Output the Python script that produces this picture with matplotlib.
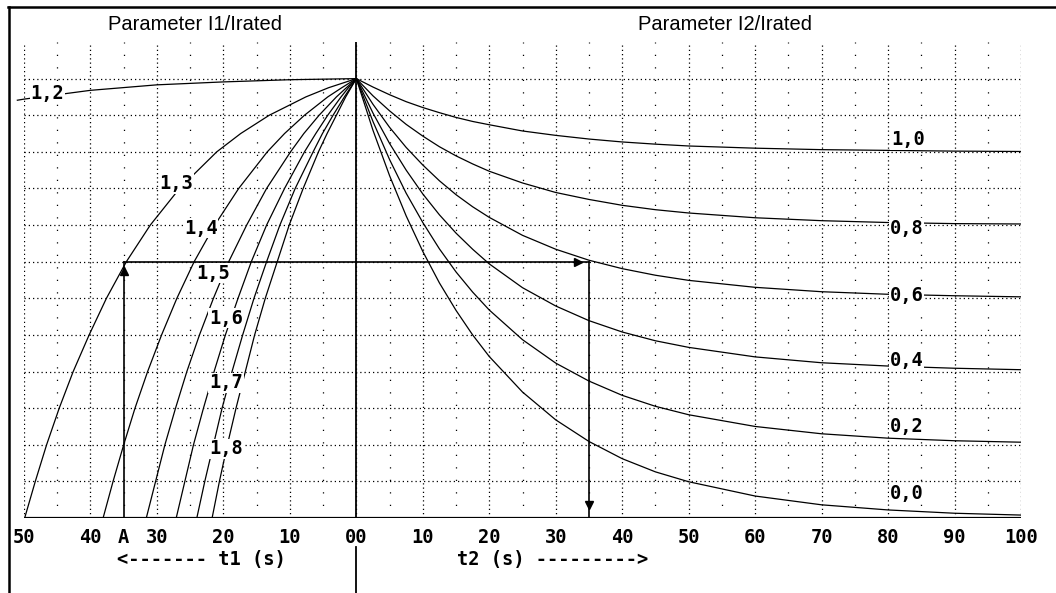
import matplotlib.pyplot as plt
from matplotlib.lines import Line2D

# ============================================================
# DATOS
# ============================================================

# lado izquierdo: calentamiento, t1 (s) hasta disparo para cada I1/Irated
niveles_y = [0, 1, 2, 3, 4, 5, 6, 7, 8, 9, 10, 10.5, 11, 11.5, 11.75, 12]
t1_13 = [49.9, 48.3, 46.6, 44.7, 42.6, 40.2, 37.6, 34.6, 31.0, 26.6, 21.0, 17.4, 13.1, 7.6, 4.2, 0]
t1_14 = [38.1, 36.6, 35.0, 33.3, 31.4, 29.3, 27.0, 24.4, 21.3, 17.7, 13.4, 10.8, 7.8, 4.3, 2.2, 0]
t1_15 = [31.6, 30.2, 28.8, 27.2, 25.5, 23.6, 21.5, 19.2, 16.5, 13.5, 9.9, 7.9, 5.6, 3.0, 1.5, 0]
t1_16 = [27.1, 25.8, 24.5, 23.0, 21.4, 19.7, 17.8, 15.8, 13.5, 10.8, 7.8, 6.1, 4.3, 2.3, 1.2, 0]
t1_17 = [24.0, 22.8, 21.5, 20.2, 18.7, 17.1, 15.4, 13.5, 11.5, 9.2, 6.5, 5.1, 3.5, 1.8, 0.9, 0]
t1_18 = [21.7, 20.6, 19.4, 18.1, 16.7, 15.3, 13.7, 11.9, 10.1, 8.0, 5.7, 4.4, 3.0, 1.6, 0.8, 0]

# la curva 1,2 es casi horizontal
t1_12 = [51, 50, 40, 30, 20, 10, 0]
y_12 = [11.41, 11.44, 11.68, 11.83, 11.91, 11.97, 12.0]

# lado derecho: enfriamiento, t2 (s) para cada I2/Irated
t2 = [0, 2.5, 5, 7.5, 10, 12.5, 15, 17.5, 20, 25, 30, 35, 40, 45, 50, 60, 70, 80, 90, 100]
y_10 = [12.0, 11.77, 11.56, 11.37, 11.21, 11.07, 10.94, 10.83, 10.74, 10.57, 10.45, 10.35, 10.27, 10.21, 10.16, 10.10, 10.06, 10.04, 10.02, 10.01]
y_08 = [12.0, 11.53, 11.12, 10.75, 10.43, 10.14, 9.89, 9.67, 9.47, 9.15, 8.89, 8.70, 8.54, 8.42, 8.33, 8.20, 8.12, 8.07, 8.04, 8.03]
y_06 = [12.0, 11.30, 10.67, 10.12, 9.64, 9.21, 8.83, 8.50, 8.21, 7.72, 7.34, 7.04, 6.81, 6.63, 6.49, 6.30, 6.18, 6.11, 6.07, 6.04]
y_04 = [12.0, 11.06, 10.23, 9.50, 8.85, 8.28, 7.78, 7.34, 6.94, 6.29, 5.79, 5.39, 5.08, 4.84, 4.66, 4.40, 4.24, 4.15, 4.09, 4.05]
y_02 = [12.0, 10.83, 9.79, 8.87, 8.07, 7.35, 6.72, 6.17, 5.68, 4.87, 4.23, 3.74, 3.35, 3.05, 2.82, 2.50, 2.30, 2.18, 2.11, 2.07]
y_00 = [12.0, 10.59, 9.35, 8.25, 7.28, 6.42, 5.67, 5.00, 4.41, 3.44, 2.68, 2.09, 1.62, 1.26, 0.99, 0.60, 0.36, 0.22, 0.13, 0.08]

# etiquetas de las curvas (texto, x, y)
etiquetas_i1 = ["1,2", "1,3", "1,4", "1,5", "1,6", "1,7", "1,8"]
etiq_i1_x = [-46.5, -27.1, -23.4, -21.5, -19.6, -19.6, -19.6]
etiq_i1_y = [11.6, 9.13, 7.92, 6.69, 5.46, 3.69, 1.89]

etiquetas_i2 = ["1,0", "0,8", "0,6", "0,4", "0,2", "0,0"]
etiq_i2_x = [83.0, 82.8, 82.8, 82.8, 82.8, 82.8]
etiq_i2_y = [10.33, 7.9, 6.07, 4.29, 2.49, 0.68]

# ejemplo de lectura: punto A
t_a = 35
y_a = 7

# ejes
ticks_x = [-50, -40, -35, -30, -20, -10, 0, 10, 20, 30, 40, 50, 60, 70, 80, 90, 100]
ticks_lbl = ["50", "40", "A", "30", "20", "10", "00", "10", "20", "30", "40",
             "50", "60", "70", "80", "90", "100"]

# ============================================================
# FIGURA
# ============================================================

W, H = 1056, 593
fig = plt.figure(figsize=(W / 100, H / 100), dpi=100)
ax = fig.add_axes([24 / W, (H - 518) / H, (1021 - 24) / W, (518 - 42) / H])
ax.set_xlim(-50, 100)
ax.set_ylim(0, 13)
for s in ax.spines.values():
    s.set_visible(False)
ax.set_yticks([])

mono = dict(family="DejaVu Sans Mono", weight="bold", size=13.5)

# rejilla punteada
for y in range(1, 13):
    ax.plot([-50, 100], [y, y], color="black", lw=0.9,
            ls=(0, (1, 2.4)), zorder=1)
for x in range(-50, 101, 10):
    ax.plot([x, x], [0, 13], color="black", lw=0.9,
            ls=(0, (1, 2.4)), zorder=1)
for x in range(-45, 100, 10):
    ax.plot([x, x], [0, 13], color="black", lw=0.9,
            ls=(0, (1, 9)), zorder=1)

# ejes principales
ax.plot([-50, 100], [0, 0], color="black", lw=1.6, zorder=3)
ax.plot([0, 0], [13, 0], color="black", lw=1.3, zorder=3)
ax.plot([0, 0], [-0.8, -2.1], color="black", lw=1.3, zorder=3, clip_on=False)

# curvas de calentamiento
ax.plot([-t for t in t1_12], y_12, color="black", lw=0.9, zorder=2, clip_on=False)
for tt in [t1_13, t1_14, t1_15, t1_16, t1_17, t1_18]:
    ax.plot([-t for t in tt], niveles_y, color="black", lw=0.9, zorder=2)

# curvas de enfriamiento
for yy in [y_10, y_08, y_06, y_04, y_02, y_00]:
    ax.plot(t2, yy, color="black", lw=0.9, zorder=2)

# lineas de lectura con flechas
ax.plot([-t_a, -t_a], [0, y_a], color="black", lw=1.2, zorder=3)
ax.plot([-t_a, t_a], [y_a, y_a], color="black", lw=1.2, zorder=3)
ax.plot([t_a, t_a], [y_a, 0], color="black", lw=1.2, zorder=3)
ax.plot([-t_a], [y_a - 0.25], marker="^", ms=6, color="black", zorder=4)
ax.plot([t_a - 1.6], [y_a], marker=">", ms=6, color="black", zorder=4)
ax.plot([t_a], [0.35], marker="v", ms=6, color="black", zorder=4)

# etiquetas de curvas
caja = dict(facecolor="white", edgecolor="none", pad=0.5)
for txt, x, y in zip(etiquetas_i1, etiq_i1_x, etiq_i1_y):
    ax.text(x, y, txt, ha="center", va="center", bbox=caja, zorder=5, **mono)
for txt, x, y in zip(etiquetas_i2, etiq_i2_x, etiq_i2_y):
    ax.text(x, y, txt, ha="center", va="center", bbox=caja, zorder=5, **mono)

# ticks
ax.set_xticks(ticks_x)
ax.set_xticklabels(ticks_lbl, fontfamily="DejaVu Sans Mono",
                   fontweight="bold", fontsize=13.5)
ax.tick_params(axis="x", length=0, pad=7)

ax.text(-23.3, -1.12, "<------- t1 (s)", ha="center", va="center",
        clip_on=False, **mono)
ax.text(29.6, -1.12, "t2 (s) --------->", ha="center", va="center",
        clip_on=False, **mono)

# titulos
fig.text(195 / W, 1 - 25 / H, "Parameter I1/Irated", ha="center", va="center",
         fontfamily="Liberation Sans", fontsize=14.5)
fig.text(725 / W, 1 - 25 / H, "Parameter I2/Irated", ha="center", va="center",
         fontfamily="Liberation Sans", fontsize=14.5)

# marco
fig.add_artist(Line2D([8 / W, 1], [1 - 7 / H, 1 - 7 / H], color="black", lw=1.8,
                      transform=fig.transFigure))
fig.add_artist(Line2D([8.5 / W, 8.5 / W], [1 - 7 / H, 0], color="black", lw=1.8,
                      transform=fig.transFigure))

fig.savefig("out.png", dpi=100, facecolor="white")
